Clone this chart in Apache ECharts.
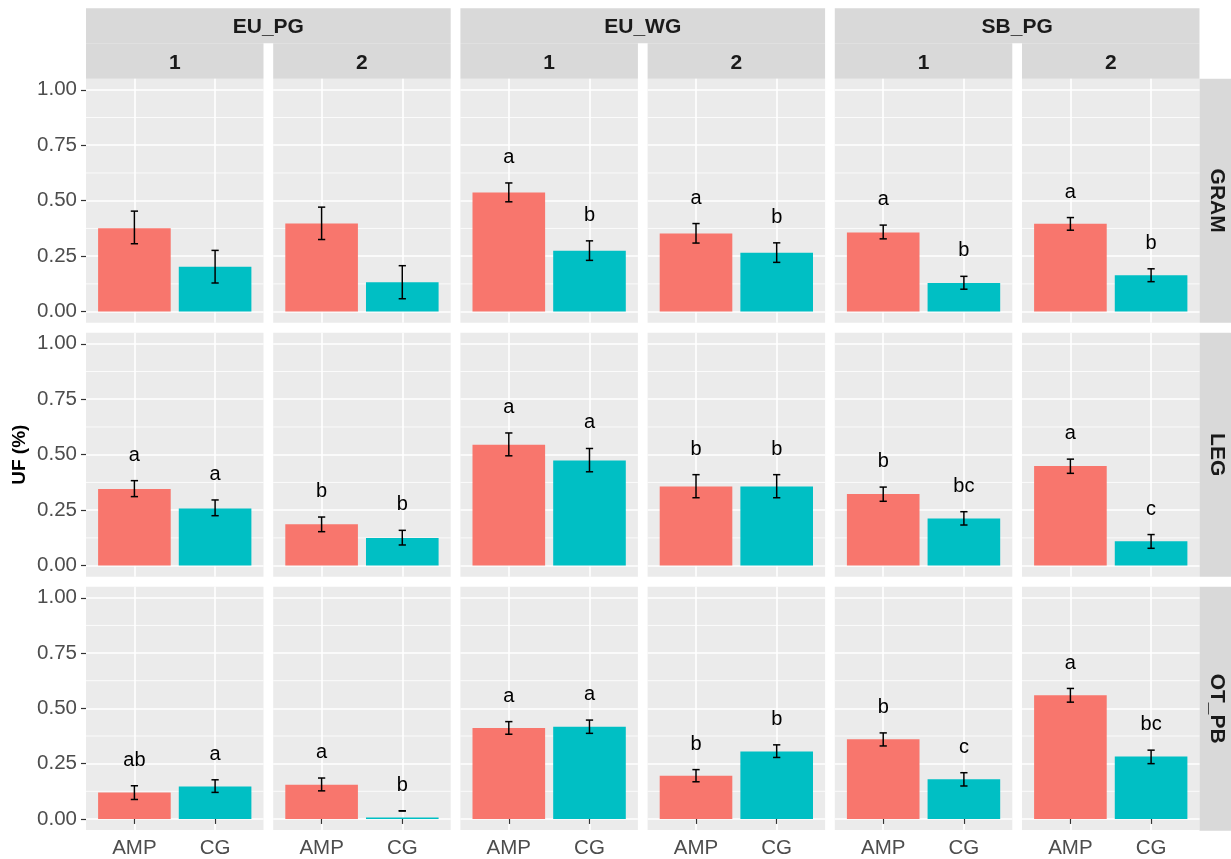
<!DOCTYPE html>
<html>
<head>
<meta charset="utf-8">
<script src="https://cdn.jsdelivr.net/npm/echarts@6/dist/echarts.min.js"></script>
<style>
  html, body { margin: 0; padding: 0; background: #fff; }
  #chart { width: 1231px; height: 859px; }
</style>
</head>
<body>
<div id="chart"></div>
<script>
// Facet levels
const sites = ['EU_PG', 'EU_WG', 'SB_PG'];
const years = ['1', '2'];
const guilds = ['GRAM', 'LEG', 'OT_PB'];
const treatments = ['AMP', 'CG'];

// Values per guild row: 6 panels (site x year) x 2 treatments (AMP, CG)
const gramMean  = [0.376, 0.202, 0.397, 0.132, 0.537, 0.274, 0.352, 0.265, 0.357, 0.129, 0.396, 0.164];
const gramLower = [0.306, 0.129, 0.325, 0.058, 0.495, 0.231, 0.309, 0.222, 0.328, 0.101, 0.367, 0.135];
const gramUpper = [0.453, 0.276, 0.471, 0.207, 0.580, 0.319, 0.397, 0.310, 0.390, 0.159, 0.424, 0.193];
const gramLetters = ['', '', '', '', 'a', 'b', 'a', 'b', 'a', 'b', 'a', 'b'];

const legMean  = [0.345, 0.258, 0.186, 0.125, 0.545, 0.474, 0.357, 0.357, 0.323, 0.212, 0.449, 0.110];
const legLower = [0.311, 0.225, 0.153, 0.093, 0.495, 0.423, 0.306, 0.306, 0.290, 0.183, 0.416, 0.078];
const legUpper = [0.383, 0.296, 0.219, 0.159, 0.598, 0.528, 0.410, 0.410, 0.354, 0.243, 0.480, 0.140];
const legLetters = ['a', 'a', 'b', 'b', 'a', 'a', 'b', 'b', 'b', 'bc', 'a', 'c'];

const otpbMean  = [0.120, 0.147, 0.155, 0.006, 0.411, 0.417, 0.195, 0.305, 0.360, 0.180, 0.559, 0.282];
const otpbLower = [0.088, 0.120, 0.127, 0.036, 0.383, 0.387, 0.168, 0.278, 0.330, 0.149, 0.528, 0.250];
const otpbUpper = [0.150, 0.177, 0.185, 0.037, 0.440, 0.447, 0.223, 0.335, 0.389, 0.209, 0.590, 0.311];
const otpbLetters = ['ab', 'a', 'a', 'b', 'a', 'a', 'b', 'b', 'b', 'c', 'a', 'bc'];

const yTicks = [0, 0.25, 0.5, 0.75, 1];
const yMinorBreaks = [0.125, 0.375, 0.625, 0.875];

const rows = [
  { mean: gramMean, lower: gramLower, upper: gramUpper, letters: gramLetters },
  { mean: legMean,  lower: legLower,  upper: legUpper,  letters: legLetters },
  { mean: otpbMean, lower: otpbLower, upper: otpbUpper, letters: otpbLetters }
];

// Layout
const FONT = 'Liberation Sans, Arial, sans-serif';
const fillColors = ['#F8766D', '#00BFC4'];
const panelLeft0 = 86, panelW = 177.5, colStep = 187.2;
const panelTop0 = 78.7, panelH = 244, rowStep = 254;
const stripTop = 8.3, stripMid = 43.3;
const barHalf = 0.45, capHalf = 0.045, letterGap = 0.115;
const tickFont = 20.5, letterFont = 20, stripFont = 'bold 21px ' + FONT;

const grids = [], xAxes = [], yAxes = [], series = [], graphics = [];

rows.forEach((row, r) => {
  for (let c = 0; c < 6; c++) {
    const gi = r * 6 + c;
    const left = panelLeft0 + c * colStep;
    const top = panelTop0 + r * rowStep;
    grids.push({
      left: left, top: top, width: panelW, height: panelH,
      show: true, backgroundColor: '#EBEBEB', borderWidth: 0
    });
    xAxes.push({
      gridIndex: gi, type: 'value', min: 0.4, max: 2.6,
      axisLine: { show: false },
      axisTick: { show: r === 2, customValues: [1, 2], length: 5, lineStyle: { color: '#333333', width: 1.2 } },
      axisLabel: {
        show: r === 2, customValues: [1, 2], margin: 8,
        formatter: v => treatments[Math.round(v) - 1],
        color: '#4D4D4D', fontSize: tickFont, fontFamily: FONT
      },
      splitLine: { show: true, lineStyle: { color: '#FFFFFF', width: 1.6 } }
    });
    yAxes.push({
      gridIndex: gi, type: 'value', min: -0.05, max: 1.05,
      axisLine: { show: false },
      axisTick: { show: c === 0, customValues: yTicks, length: 5, lineStyle: { color: '#333333', width: 1.2 } },
      axisLabel: {
        show: c === 0, customValues: yTicks, margin: 9,
        formatter: v => v.toFixed(2),
        color: '#4D4D4D', fontSize: tickFont, fontFamily: FONT
      },
      splitLine: { show: true, lineStyle: { color: '#FFFFFF', width: 1.6 } }
    });

    // minor horizontal grid lines
    series.push({
      type: 'custom', xAxisIndex: gi, yAxisIndex: gi, z: 1, silent: true,
      data: yMinorBreaks.map(v => [v]),
      renderItem: (params, api) => {
        const v = api.value(0);
        const a = api.coord([0.4, v]);
        const b = api.coord([2.6, v]);
        return { type: 'line', shape: { x1: a[0], y1: a[1], x2: b[0], y2: b[1] },
                 style: { stroke: '#FFFFFF', lineWidth: 0.8 } };
      }
    });

    // bars, error bars and group letters
    const idx = [c * 2, c * 2 + 1];
    const letters = idx.map(k => row.letters[k]);
    series.push({
      type: 'custom', xAxisIndex: gi, yAxisIndex: gi, z: 3, silent: true, clip: false,
      data: idx.map((k, t) => [t + 1, row.mean[k], row.lower[k], row.upper[k]]),
      renderItem: (params, api) => {
        const x = api.value(0), m = api.value(1), lo = api.value(2), hi = api.value(3);
        const p0 = api.coord([x - barHalf, m]);
        const p1 = api.coord([x + barHalf, 0]);
        const eTop = api.coord([x, hi]), eBot = api.coord([x, lo]);
        const cL = api.coord([x - capHalf, hi]), cR = api.coord([x + capHalf, hi]);
        const children = [
          { type: 'rect', shape: { x: p0[0], y: p0[1], width: p1[0] - p0[0], height: p1[1] - p0[1] },
            style: { fill: fillColors[params.dataIndex] } },
          { type: 'line', shape: { x1: eTop[0], y1: eTop[1], x2: eBot[0], y2: eBot[1] },
            style: { stroke: '#000', lineWidth: 1.5 } },
          { type: 'line', shape: { x1: cL[0], y1: cL[1], x2: cR[0], y2: cR[1] },
            style: { stroke: '#000', lineWidth: 1.5 } },
          { type: 'line', shape: { x1: cL[0], y1: eBot[1], x2: cR[0], y2: eBot[1] },
            style: { stroke: '#000', lineWidth: 1.5 } }
        ];
        const letter = letters[params.dataIndex];
        if (letter) {
          const lp = api.coord([x, hi + letterGap]);
          children.push({ type: 'text', x: lp[0], y: lp[1],
            style: { text: letter, fill: '#000', fontSize: letterFont, fontFamily: FONT,
                     align: 'center', verticalAlign: 'middle' } });
        }
        return { type: 'group', children: children };
      }
    });
  }
});

// Column strips: site (outer) and year (inner)
sites.forEach((s, si) => {
  const l = panelLeft0 + si * 2 * colStep;
  const w = colStep + panelW;
  graphics.push({ type: 'rect', shape: { x: l, y: stripTop, width: w, height: stripMid - stripTop },
                  style: { fill: '#D9D9D9' }, silent: true });
  graphics.push({ type: 'text', x: l + w / 2, y: (stripTop + stripMid) / 2 + 1.5,
                  style: { text: s, fill: '#1A1A1A', font: stripFont, align: 'center', verticalAlign: 'middle' } });
  years.forEach((yr, yi) => {
    const ll = l + yi * colStep;
    graphics.push({ type: 'rect', shape: { x: ll, y: stripMid, width: panelW, height: panelTop0 - stripMid },
                    style: { fill: '#D9D9D9' }, silent: true });
    graphics.push({ type: 'text', x: ll + panelW / 2, y: (stripMid + panelTop0) / 2 + 2.5,
                    style: { text: yr, fill: '#1A1A1A', font: stripFont, align: 'center', verticalAlign: 'middle' } });
  });
});

// Row strips: guild
const stripRight = panelLeft0 + 5 * colStep + panelW;
guilds.forEach((g, gi) => {
  const t = panelTop0 + gi * rowStep;
  graphics.push({ type: 'rect', shape: { x: stripRight, y: t, width: 36, height: panelH },
                  style: { fill: '#D9D9D9' }, silent: true });
  graphics.push({ type: 'text', x: stripRight + 17, y: t + panelH / 2, rotation: -Math.PI / 2,
                  style: { text: g, fill: '#1A1A1A', font: stripFont, align: 'center', verticalAlign: 'middle' } });
});

// Y axis title
graphics.push({ type: 'text', x: 20, y: panelTop0 + (3 * panelH + 2 * (rowStep - panelH)) / 2, rotation: Math.PI / 2,
                style: { text: 'UF (%)', fill: '#000', font: 'bold 19px ' + FONT, align: 'center', verticalAlign: 'middle' } });

const chart = echarts.init(document.getElementById('chart'), null, { renderer: 'canvas' });
chart.setOption({
  animation: false,
  backgroundColor: '#FFFFFF',
  grid: grids,
  xAxis: xAxes,
  yAxis: yAxes,
  series: series,
  graphic: { elements: graphics }
});
</script>
</body>
</html>
